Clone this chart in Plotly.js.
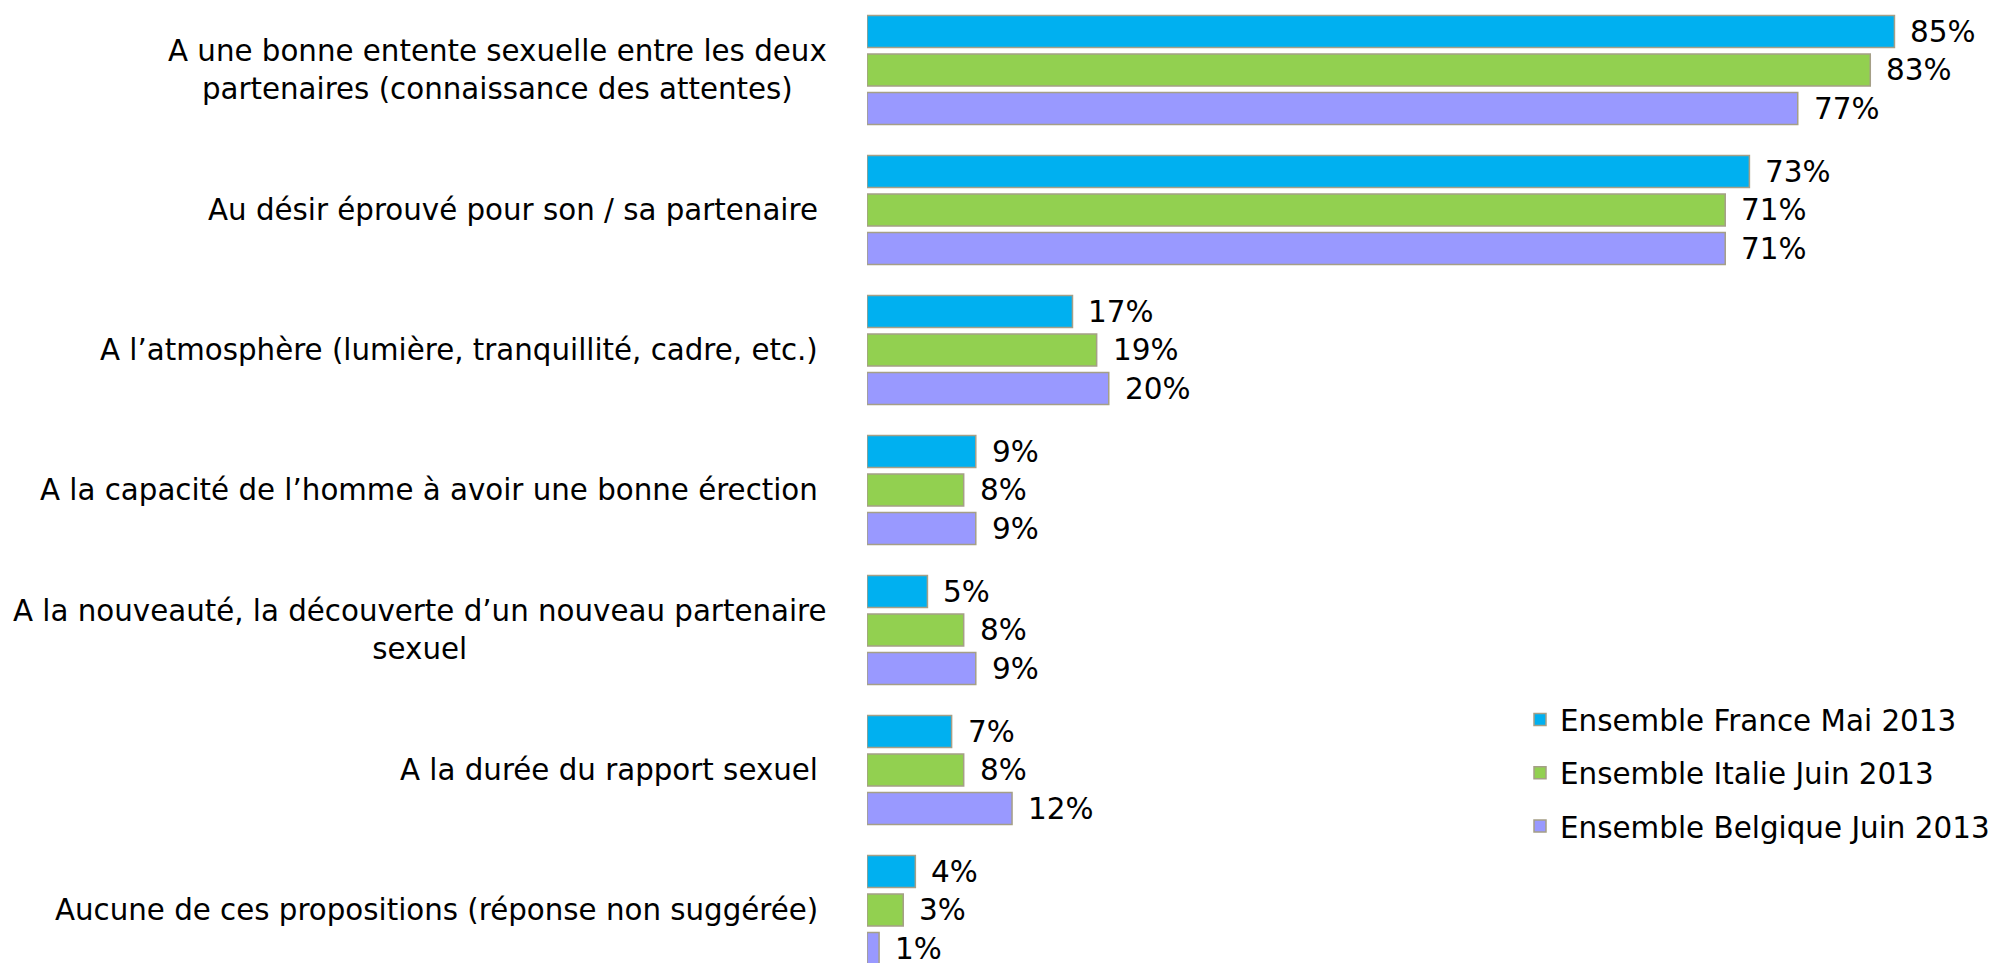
<!DOCTYPE html>
<html>
<head>
<meta charset="utf-8">
<script src="https://cdn.plot.ly/plotly-3.0.1.min.js"></script>
<style>html,body{margin:0;padding:0;background:#fff;}#chart{width:1995px;height:963px;}</style>
</head>
<body>
<div id="chart"></div>
<script>
var categories = [
  "A une bonne entente sexuelle entre les deux<br>partenaires (connaissance des attentes)",
  "Au désir éprouvé pour son / sa partenaire",
  "A l’atmosphère (lumière, tranquillité, cadre, etc.)",
  "A la capacité de l’homme à avoir une bonne érection",
  "A la nouveauté, la découverte d’un nouveau partenaire<br>sexuel",
  "A la durée du rapport sexuel",
  "Aucune de ces propositions (réponse non suggérée)"
];
var seriesNames = ["Ensemble France Mai 2013", "Ensemble Italie Juin 2013", "Ensemble Belgique Juin 2013"];
var france   = [85, 73, 17, 9, 5, 7, 4];
var italie   = [83, 71, 19, 8, 8, 8, 3];
var belgique = [77, 71, 20, 9, 9, 12, 1];

var seriesValues = [france, italie, belgique];
var colors = ["#00B0F0", "#92D050", "#9999FF"];
var borderColor = "#A59F87";
var FONT = "DejaVu Sans, Verdana, sans-serif";

var traces = seriesValues.map(function (vals, k) {
  return {
    type: "bar",
    orientation: "h",
    name: seriesNames[k],
    legendgroup: "g" + k,
    x: vals,
    y: categories,
    marker: { color: colors[k], line: { color: borderColor, width: 1.5 } },
    hoverinfo: "x+name"
  };
});

var annotations = [];
// category labels
categories.forEach(function (c, i) {
  var multi = c.indexOf("<br>") >= 0;
  annotations.push({
    xref: "paper", yref: "y", x: 0, y: i,
    xanchor: "right", yanchor: "middle", align: "center",
    xshift: multi ? -38 : -47,
    text: c, showarrow: false,
    font: { family: FONT, size: 29.3, color: "#000" }
  });
});
// value labels
var bargap = 0.175, groupW = 1 - bargap;
seriesValues.forEach(function (vals, k) {
  var off = (k - 1) * groupW / 3;
  vals.forEach(function (v, i) {
    annotations.push({
      xref: "x", yref: "y", x: v, y: i + off,
      xanchor: "left", yanchor: "middle", xshift: 14,
      text: v + "%", showarrow: false,
      font: { family: FONT, size: 29.5, color: "#000" }
    });
  });
});

var plotW = 1995 - 867;
var layout = {
  width: 1995, height: 963,
  margin: { l: 867, r: 0, t: 0, b: 0, pad: 0 },
  paper_bgcolor: "#fff", plot_bgcolor: "#fff",
  barmode: "group",
  bargap: bargap,
  bargroupgap: 0.169,
  xaxis: { range: [0, plotW / 12.12], visible: false, fixedrange: true },
  yaxis: { type: "category", range: [-0.5 + 963 / 140, -0.5], showticklabels: false,
           showgrid: false, zeroline: false, showline: false, ticks: "", fixedrange: true },
  showlegend: true,
  legend: {
    x: (1522 - 867) / plotW, xanchor: "left",
    y: 1 - 694 / 963, yanchor: "top",
    traceorder: "grouped",
    tracegroupgap: 12,
    font: { family: FONT, size: 29.4, color: "#000" },
    bgcolor: "rgba(0,0,0,0)", borderwidth: 0
  },
  annotations: annotations,
  font: { family: FONT }
};

Plotly.newPlot("chart", traces, layout, { displayModeBar: false, staticPlot: true });
</script>
</body>
</html>
